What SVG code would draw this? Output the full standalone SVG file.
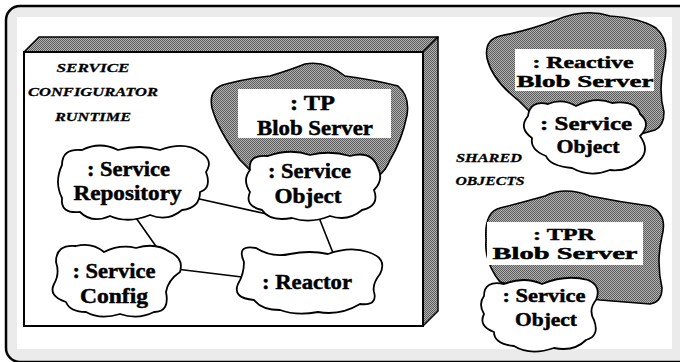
<svg xmlns="http://www.w3.org/2000/svg" width="680" height="362" viewBox="0 0 680 362">
<style>
.lbl{font-family:"Liberation Serif","Times New Roman",serif;font-weight:bold;fill:#000;stroke:#000;stroke-width:0.45;text-anchor:middle}
.it{font-family:"Liberation Serif","Times New Roman",serif;font-weight:bold;font-style:italic;font-size:13.5px;fill:#000;stroke:#000;stroke-width:0.3;text-anchor:middle}
.cloud{fill:#fff;stroke:#000;stroke-width:1.8;stroke-linejoin:round}
.blob{fill:url(#dither);stroke:#000;stroke-width:1.6;stroke-linejoin:round}
.tag{fill:#fff;stroke:none}
.conn{stroke:#000;stroke-width:1.6;fill:none}
</style>
<defs>
<pattern id="dither" width="2" height="2" patternUnits="userSpaceOnUse">
<rect width="2" height="2" fill="#b4b4b4"/>
<rect width="1" height="1" fill="#5a5a5a"/>
<rect x="1" y="1" width="1" height="1" fill="#5a5a5a"/>
</pattern>
</defs>
<g id="frame">
<rect x="6" y="6" width="690" height="356" rx="14" fill="#ebebeb" stroke="#000" stroke-width="2.5"/>
<rect x="17" y="17" width="655" height="332" fill="#fff"/>
</g>
<g id="runtime-box">
<polygon points="24,52 39,37 438,37 423,52" fill="url(#dither)" stroke="#000" stroke-width="1.5" stroke-linejoin="round"/>
<polygon points="423,52 438,37 438,311 423,326" fill="url(#dither)" stroke="#000" stroke-width="1.5" stroke-linejoin="round"/>
<rect x="24" y="52" width="399" height="274" fill="#fff" stroke="#000" stroke-width="2"/>
<text class="it" x="93" y="72" textLength="73" lengthAdjust="spacingAndGlyphs">SERVICE</text>
<text class="it" x="93" y="96" textLength="130" lengthAdjust="spacingAndGlyphs">CONFIGURATOR</text>
<text class="it" x="93" y="121" textLength="76" lengthAdjust="spacingAndGlyphs">RUNTIME</text>
</g>
<g id="connectors">
<line class="conn" x1="195" y1="198" x2="276" y2="216"/>
<line class="conn" x1="134" y1="215" x2="160" y2="252"/>
<line class="conn" x1="316" y1="210" x2="335" y2="258"/>
<line class="conn" x1="176" y1="269" x2="242" y2="277"/>
</g>
<g id="tp-blob-server">
<path class="blob" d="M 260,180 L 240,160 Q 218,130 212,108 Q 208,88 226,84 Q 250,78 270,76 Q 290,70 305,64 Q 325,60 345,76 Q 375,80 398,86 Q 410,96 407,115 Q 402,140 390,160 Q 385,172 378,176 L 350,190 Z"/>
<rect class="tag" x="238" y="89" width="153" height="49"/>
<text class="lbl" font-size="20" x="312.5" y="110" textLength="45" lengthAdjust="spacingAndGlyphs">: TP</text>
<text class="lbl" font-size="20" x="315" y="135" textLength="116" lengthAdjust="spacingAndGlyphs">Blob Server</text>
</g>
<g id="tp-service-object">
<path class="cloud" d="M 250,170 Q 248,154 268,156 Q 290,148 310,155 Q 330,150 350,156 Q 372,150 378,168 Q 384,180 374,190 Q 380,206 362,210 Q 348,222 330,216 Q 310,224 292,218 Q 270,222 262,210 Q 244,206 250,192 Q 242,180 250,170 Z"/>
<text class="lbl" font-size="20" x="309.5" y="178" textLength="83" lengthAdjust="spacingAndGlyphs">: Service</text>
<text class="lbl" font-size="20" x="308" y="203" textLength="67" lengthAdjust="spacingAndGlyphs">Object</text>
</g>
<g id="service-repository">
<path class="cloud" d="M 62,165 Q 62,148 82,150 Q 100,141 118,150 Q 140,144 160,150 Q 185,141 200,152 Q 214,160 206,172 Q 212,188 200,192 Q 200,208 182,210 Q 168,222 150,215 Q 128,224 110,216 Q 92,224 80,212 Q 60,214 62,198 Q 54,182 62,165 Z"/>
<text class="lbl" font-size="20.5" x="128.5" y="176" textLength="83" lengthAdjust="spacingAndGlyphs">: Service</text>
<text class="lbl" font-size="20.5" x="127.5" y="200" textLength="108" lengthAdjust="spacingAndGlyphs">Repository</text>
</g>
<g id="service-config">
<path class="cloud" d="M 56,262 Q 56,244 76,246 Q 92,242 104,252 Q 120,244 136,248 Q 156,242 170,252 Q 184,258 180,272 Q 168,280 166,292 Q 170,312 154,312 Q 138,320 120,314 Q 100,320 86,312 Q 70,312 66,302 Q 48,296 54,284 Q 60,274 56,262 Z"/>
<text class="lbl" font-size="20.5" x="114" y="278" textLength="83" lengthAdjust="spacingAndGlyphs">: Service</text>
<text class="lbl" font-size="20.5" x="114" y="303" textLength="68" lengthAdjust="spacingAndGlyphs">Config</text>
</g>
<g id="reactor">
<path class="cloud" d="M 244,262 Q 236,244 256,248 Q 272,258 290,254 Q 310,250 328,254 Q 350,246 368,252 Q 388,258 380,274 Q 372,284 374,292 Q 378,306 360,304 Q 340,316 318,312 Q 296,316 280,310 Q 262,310 254,300 Q 232,298 238,284 Q 244,274 244,262 Z"/>
<text class="lbl" font-size="20.5" x="307" y="289" textLength="90" lengthAdjust="spacingAndGlyphs">: Reactor</text>
</g>
<g id="shared-objects-label">
<text class="it" x="489" y="162" textLength="66" lengthAdjust="spacingAndGlyphs">SHARED</text>
<text class="it" x="490" y="185" textLength="69" lengthAdjust="spacingAndGlyphs">OBJECTS</text>
</g>
<g id="reactive-blob-server">
<path class="blob" d="M 530,112 L 518,100 Q 492,80 487,58 Q 484,40 500,36 Q 530,30 556,20 Q 585,8 610,16 Q 640,18 656,28 Q 670,40 664,64 Q 658,90 664,112 Q 664,126 655,130 L 620,140 Z"/>
<rect class="tag" x="515" y="49" width="139" height="42"/>
<text class="lbl" font-size="16.5" x="583" y="68" textLength="101" lengthAdjust="spacingAndGlyphs">: Reactive</text>
<text class="lbl" font-size="16.5" x="585" y="86.5" textLength="137" lengthAdjust="spacingAndGlyphs">Blob Server</text>
</g>
<g id="reactive-service-object">
<path class="cloud" d="M 528,116 Q 530,100 548,104 Q 562,98 576,106 Q 596,96 612,103 Q 636,100 640,114 Q 652,124 640,136 Q 650,150 640,160 Q 628,172 610,170 Q 590,178 572,168 Q 550,166 546,156 Q 530,150 532,138 Q 518,128 528,116 Z"/>
<text class="lbl" font-size="18.5" x="586" y="130" textLength="92" lengthAdjust="spacingAndGlyphs">: Service</text>
<text class="lbl" font-size="18.5" x="588" y="153" textLength="63" lengthAdjust="spacingAndGlyphs">Object</text>
</g>
<g id="tpr-blob-server">
<path class="blob" d="M 530,290 L 500,282 Q 484,262 486,240 Q 484,212 500,208 Q 524,202 545,196 Q 565,186 590,196 Q 620,202 650,206 Q 668,214 662,236 Q 656,262 662,288 Q 662,302 650,304 L 600,300 Z"/>
<rect class="tag" x="487" y="222" width="156" height="43"/>
<text class="lbl" font-size="17" x="564" y="240" textLength="62" lengthAdjust="spacingAndGlyphs">: TPR</text>
<text class="lbl" font-size="17" x="565" y="259" textLength="145" lengthAdjust="spacingAndGlyphs">Blob Server</text>
</g>
<g id="tpr-service-object">
<path class="cloud" d="M 484,296 Q 484,280 504,284 Q 524,276 542,284 Q 566,274 588,280 Q 602,286 596,300 Q 588,310 594,320 Q 600,336 586,340 Q 574,352 554,348 Q 530,356 514,346 Q 494,344 494,332 Q 478,326 484,314 Q 478,304 484,296 Z"/>
<text class="lbl" font-size="18.5" x="544" y="302" textLength="83" lengthAdjust="spacingAndGlyphs">: Service</text>
<text class="lbl" font-size="18.5" x="546" y="326" textLength="62" lengthAdjust="spacingAndGlyphs">Object</text>
</g>
</svg>
